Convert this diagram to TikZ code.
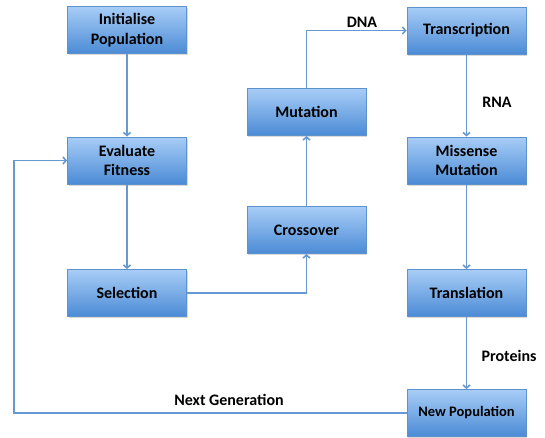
\documentclass[tikz,border=0pt]{standalone}
\usepackage{fontspec}
\setmainfont{Carlito}
\usetikzlibrary{arrows.meta,shadows}
\definecolor{boxtop}{HTML}{A8CDF7}
\definecolor{boxbot}{HTML}{4B8BD5}
\definecolor{boxedge}{HTML}{5E92CF}
\definecolor{linec}{HTML}{6699D2}
\begin{document}
\begin{tikzpicture}[x=1pt,y=-1pt,
 box/.style={draw=boxedge, line width=1pt, top color=boxtop, bottom color=boxbot,
   minimum width=119pt, minimum height=47pt, inner sep=0pt, align=center,
   font=\bfseries\fontsize{16}{19.5}\selectfont,
   drop shadow={shadow xshift=1pt,shadow yshift=-1.5pt,opacity=0.3}},
 conn/.style={draw=linec, line width=1.6pt, -{Straight Barb[length=3pt,width=7pt]}},
 lbl/.style={font=\bfseries\fontsize{16}{19}\selectfont}]
\useasboundingbox (0,0) rectangle (545,437);
\node[box] (init) at (127,30) {Initialise\\Population};
\node[box] (eval) at (127,160.5) {Evaluate\\Fitness};
\node[box] (sel) at (127,293) {Selection};
\node[box] (cross) at (306.5,230) {Crossover};
\node[box] (mut) at (306.5,112) {Mutation};
\node[box] (trans) at (466.5,30.5) {Transcription};
\node[box] (miss) at (466.5,160.5) {Missense\\Mutation};
\node[box] (transl) at (466.5,293) {Translation};
\node[box, font=\bfseries\fontsize{14.5}{17}\selectfont] (newpop) at (466.5,413) {New Population};
\coordinate (lb) at (14,413);
\coordinate (lt) at (14,160.5);
\draw[conn] (init) -- (eval);
\draw[conn] (eval) -- (sel);
\draw[conn] (sel) -| (cross);
\draw[conn] (cross) -- (mut);
\draw[conn] (mut) |- (trans);
\draw[conn] (trans) -- (miss);
\draw[conn] (miss) -- (transl);
\draw[conn] (transl) -- (newpop);
\draw[conn] (newpop.west) -- (lb) -- (lt) -- (eval.west);
\node[lbl] (dna) at (362,22) {DNA};
\node[lbl] (rna) at (497,102) {RNA};
\node[lbl] (prot) at (509,356) {Proteins};
\node[lbl] (nextgen) at (229,400) {Next Generation};
\end{tikzpicture}
\end{document}
